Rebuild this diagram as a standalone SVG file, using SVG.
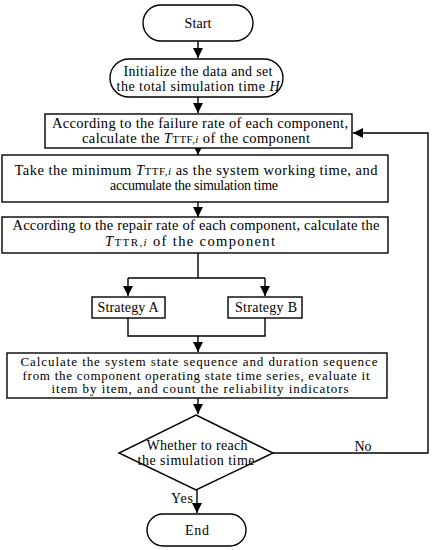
<svg xmlns="http://www.w3.org/2000/svg" width="435" height="550" viewBox="0 0 435 550">
<style>
.s{fill:#fff;stroke:#000;stroke-width:1.4}
.c{fill:none;stroke:#000;stroke-width:1.4}
text{font-family:"Liberation Serif","Times New Roman",serif;font-size:14px;fill:#000;text-anchor:middle}
.lg{font-size:14.5px}
.sm{font-size:13px}
.sub{font-size:11px}
.it{font-style:italic}
</style>
<defs>
<marker id="ah" viewBox="0 0 10 10" refX="10" refY="5" markerWidth="10" markerHeight="10" markerUnits="userSpaceOnUse" orient="auto">
<path d="M0,0L10,5L0,10z" fill="#000"/>
</marker>
</defs>
<rect width="435" height="550" fill="#fff"/>
<g id="connectors">
<path class="c" d="M198,41V58" marker-end="url(#ah)"/>
<path class="c" d="M198,97V113" marker-end="url(#ah)"/>
<path class="c" d="M198,148V155" marker-end="url(#ah)"/>
<path class="c" d="M198,202V217" marker-end="url(#ah)"/>
<path class="c" d="M198,253V278M128,278H265"/>
<path class="c" d="M128,278V296" marker-end="url(#ah)"/>
<path class="c" d="M265,278V296" marker-end="url(#ah)"/>
<path class="c" d="M128,318V336H265V318"/>
<path class="c" d="M198,336V352" marker-end="url(#ah)"/>
<path class="c" d="M198,398V414" marker-end="url(#ah)"/>
<path class="c" d="M197,490V513" marker-end="url(#ah)"/>
<path class="c" d="M273,453H428V133H353" marker-end="url(#ah)"/>
<text x="363" y="451" textLength="17">No</text>
<text x="182" y="503" textLength="22">Yes</text>
</g>
<g id="start">
<rect class="s" x="143" y="5" width="110" height="36" rx="18"/>
<text x="198" y="28" textLength="27">Start</text>
</g>
<g id="init">
<rect class="s" x="110" y="59" width="173" height="38" rx="19"/>
<text x="198" y="76" textLength="149">Initialize the data and set</text>
<text x="198" y="91" textLength="163">the total simulation time <tspan class="it">H</tspan></text>
</g>
<g id="ttf">
<rect class="s" x="45" y="114" width="307" height="34"/>
<text class="lg" x="200" y="128" textLength="296">According to the failure rate of each component,</text>
<text class="lg" x="196" y="143" textLength="228">calculate the <tspan class="it">T</tspan><tspan class="sub">TTF,</tspan><tspan class="sub it">i</tspan> of the component</text>
</g>
<g id="minttf">
<rect class="s" x="2" y="155" width="386" height="47"/>
<text class="lg" x="196" y="175" textLength="363">Take the minimum <tspan class="it">T</tspan><tspan class="sub">TTF,</tspan><tspan class="sub it">i</tspan> as the system working time,  and</text>
<text x="194" y="190" textLength="168">accumulate the simulation time</text>
</g>
<g id="ttr">
<rect class="s" x="2" y="217" width="386" height="36"/>
<text class="lg" x="196" y="230" textLength="367">According to the repair rate of each component, calculate the</text>
<text class="lg" x="190" y="246" textLength="170"><tspan class="it">T</tspan><tspan class="sub">TTR,</tspan><tspan class="sub it">i</tspan> of the component</text>
</g>
<g id="stratA">
<rect class="s" x="92" y="297" width="73" height="21"/>
<text x="128" y="312" textLength="61">Strategy  A</text>
</g>
<g id="stratB">
<rect class="s" x="228" y="297" width="74" height="21"/>
<text x="266" y="312" textLength="62">Strategy  B</text>
</g>
<g id="calc">
<rect class="s" x="7" y="353" width="380" height="45"/>
<text class="sm" x="199" y="366" textLength="357">Calculate the system state sequence and duration sequence</text>
<text class="sm" x="196" y="379.5" textLength="347">from the component operating state time series, evaluate it</text>
<text class="sm" x="200" y="393" textLength="297">item by item, and count the reliability indicators</text>
</g>
<g id="decision">
<path class="s" d="M196,415L273,453L196,490L119,453Z"/>
<text x="197" y="450" textLength="101">Whether to reach</text>
<text x="196" y="465" textLength="117">the simulation time</text>
</g>
<g id="end">
<rect class="s" x="147" y="514" width="99" height="32" rx="16"/>
<text x="197" y="535" textLength="24">End</text>
</g>
</svg>
